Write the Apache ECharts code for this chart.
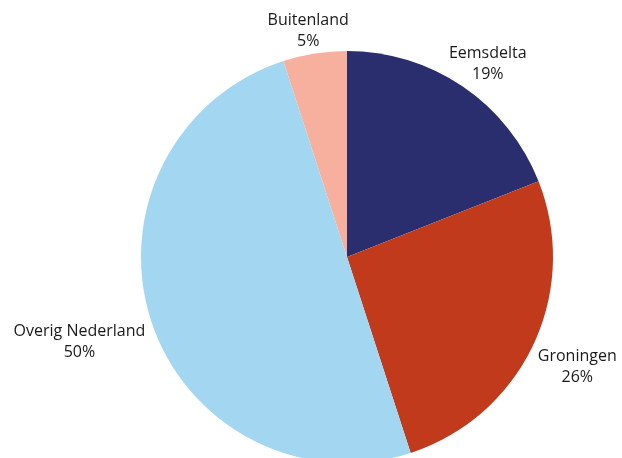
<!DOCTYPE html>
<html>
<head>
<meta charset="utf-8">
<script src="https://cdn.jsdelivr.net/npm/echarts@6/dist/echarts.min.js"></script>
<style>html,body{margin:0;padding:0;background:#fff}#c{width:622px;height:458px}</style>
</head>
<body>
<div id="c"></div>
<script>
var categories = ['Eemsdelta', 'Groningen', 'Overig Nederland', 'Buitenland'];
var values = [19, 26, 50, 5];
var colors = ['#2b2e6e', '#c13a1c', '#a3d7f1', '#f8b09e'];

var CX = 347, CY = 257, R = 206;
var total = values.reduce(function (a, b) { return a + b; }, 0);
function midAngle(i) {
  var s = 0;
  for (var k = 0; k < i; k++) s += values[k];
  return (s + values[i] / 2) / total * Math.PI * 2;
}

var chart = echarts.init(document.getElementById('c'), null, { renderer: 'canvas' });
chart.setOption({
  animation: false,
  backgroundColor: '#ffffff',
  series: [{
    type: 'pie',
    center: [CX, CY],
    radius: R,
    startAngle: 90,
    clockwise: true,
    avoidLabelOverlap: false,
    data: categories.map(function (c, i) {
      return { name: c, value: values[i], itemStyle: { color: colors[i] } };
    }),
    label: {
      show: true,
      position: 'outside',
      formatter: '{b}\n{c}%',
      fontFamily: 'Open Sans',
      fontSize: 16,
      lineHeight: 21,
      color: '#1a1a1a',
      align: 'center'
    },
    labelLine: { show: false, length: 0, length2: 0 },
    emphasis: { disabled: true },
    labelLayout: function (p) {
      var a = midAngle(p.dataIndex);
      var ux = Math.sin(a), uy = -Math.cos(a);
      var w = p.labelRect.width, h = p.labelRect.height;
      var ex = CX + R * ux, ey = CY + R * uy;
      return {
        x: ex + ux * (w / 2) + ux * Math.abs(ux) * 10,
        y: ey + (uy < 0 ? -1 : 1) * h / 2 + uy * 2,
        align: 'center',
        verticalAlign: 'middle'
      };
    }
  }]
});
</script>
</body>
</html>
